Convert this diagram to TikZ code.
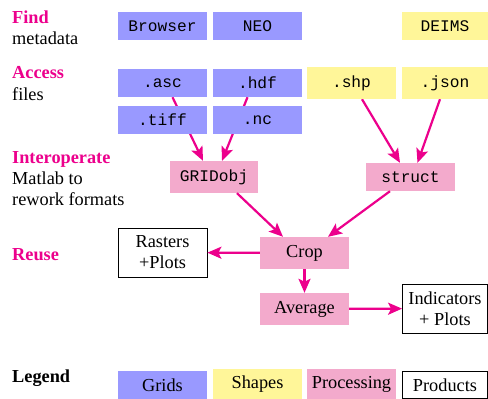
\documentclass[tikz,border=0pt]{standalone}
\usepackage{fontspec}
\setmainfont{Liberation Serif}
\setmonofont{Liberation Mono}
\usetikzlibrary{arrows.meta,calc,backgrounds}

\definecolor{gridblue}{RGB}{153,153,255}
\definecolor{shapeyellow}{RGB}{255,246,153}
\definecolor{procpink}{RGB}{243,170,204}
\definecolor{hotpink}{RGB}{236,0,140}

\begin{document}
\begin{tikzpicture}[x=1pt,y=-1pt,>={Stealth[length=14pt,width=12pt,inset=3pt]},
  box/.style={minimum width=89pt,minimum height=28pt,inner sep=0pt,font=\fontsize{16.2}{18}\selectfont\ttfamily},
  grid node/.style={box,fill=gridblue},
  shape node/.style={box,fill=shapeyellow},
  proc node/.style={box,fill=procpink},
  prod node/.style={box,draw,line width=0.8pt,align=center,font=\fontsize{18.3}{21}\selectfont},
  step title/.style={anchor=base west,inner sep=0pt,text=hotpink,font=\fontsize{18.3}{21.5}\selectfont\bfseries},
  step text/.style={anchor=base west,inner sep=0pt,align=left,font=\fontsize{18.3}{21}\selectfont},
  flow/.style={->,draw=hotpink,line width=2.2pt}]
\useasboundingbox (0,0) rectangle (488,399);

% left column
\node[step title](find) at (12,23) {Find};
\node[step text](findtxt) at (12,44) {metadata};
\node[step title](access) at (12,78) {Access};
\node[step text](accesstxt) at (12,100) {files};
\node[step title](interop) at (12,163) {Interoperate};
\node[step text](matlab) at (12,184) {Matlab to};
\node[step text](rework) at (12,205) {rework formats};
\node[step title](reuse) at (12,260) {Reuse};
\node[step text,font=\fontsize{18.3}{21}\selectfont\bfseries](legend) at (12,382) {Legend};

% sources
\node[grid node](browser) at (162.5,26) {Browser};
\node[grid node](neo) at (257.5,26) {NEO};
\node[shape node,minimum width=86pt](deims) at (445,26) {DEIMS};
\node[grid node](asc) at (162.5,83) {.asc};
\node[grid node](hdf) at (257.5,83) {.hdf};
\node[shape node,minimum height=32pt](shp) at (351.5,83) {.shp};
\node[shape node,minimum height=32pt,minimum width=86pt](json) at (445,83) {.json};
\node[grid node](tiff) at (162.5,120) {.tiff};
\node[grid node](nc) at (257.5,120) {.nc};

% processing
\node[proc node,minimum width=88pt,minimum height=32pt](gridobj) at (214,177) {GRIDobj};
\node[proc node](struct) at (410.5,177) {struct};
\node[proc node,minimum height=32pt,font=\fontsize{18.3}{21}\selectfont](crop) at (304.5,253) {Crop};
\node[proc node,minimum height=32pt,font=\fontsize{18.3}{21}\selectfont](average) at (304.5,309) {Average};

% products
\node[prod node,minimum height=49pt](rasters) at (162.5,252.5) {Rasters\\+Plots};
\node[prod node,minimum width=85pt,minimum height=49pt](indicators) at (445,308.5) {Indicators\\+ Plots};

% legend
\node[grid node,font=\fontsize{18.3}{21}\selectfont](lgrids) at (162.5,385) {Grids};
\node[shape node,minimum height=30pt,font=\fontsize{18.3}{21}\selectfont](lshapes) at (257.5,384) {Shapes};
\node[proc node,minimum height=30pt,font=\fontsize{18.3}{21}\selectfont](lproc) at (351.5,384) {Processing};
\node[prod node,minimum width=85pt,minimum height=27pt](lprod) at (445,385) {Products};

\begin{scope}[on background layer]
\path
($(asc.south)+(10,0)$) edge[flow] ($(gridobj.north)+(-11,0)$)
($(hdf.south)+(-10,0)$) edge[flow] ($(gridobj.north)+(8,0)$)
($(shp.south)+(10.5,0)$) edge[flow] ($(struct.north)+(-10.5,0)$)
($(json.south)+(-5,0)$) edge[flow] ($(struct.north)+(7,0)$);
\end{scope}

\path
($(gridobj.south)+(23,0)$) edge[flow] ($(crop.north)+(-21.5,0)$)
($(struct.south)+(-20.5,0)$) edge[flow] ($(crop.north)+(23.5,0)$)
(crop) edge[flow] (rasters)
(crop) edge[flow] (average)
(average) edge[flow] (indicators);
\end{tikzpicture}
\end{document}
